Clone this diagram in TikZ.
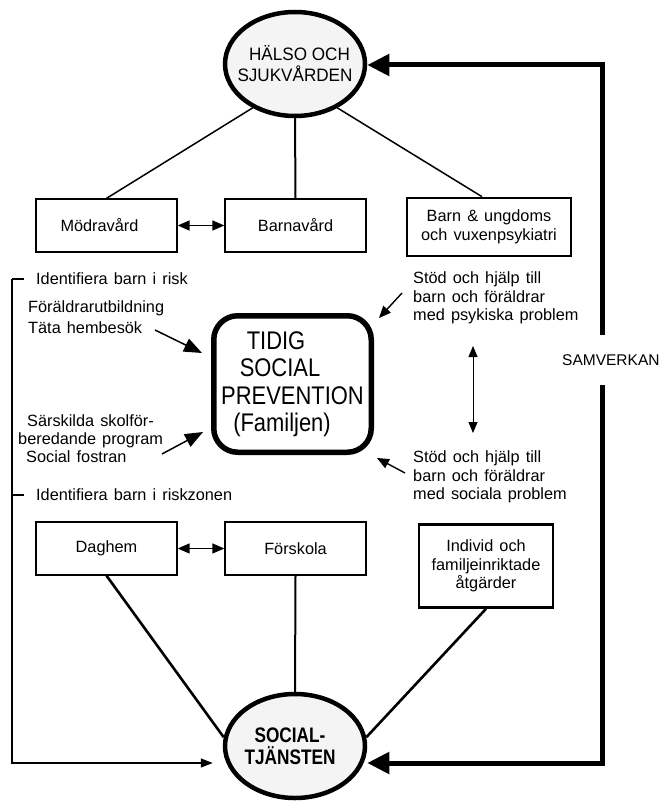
\documentclass[tikz,border=0pt]{standalone}
\usepackage{fontspec}
\setmainfont{Liberation Sans}[WordSpace=1.35]
\newfontfamily\narrowfont{Liberation Sans}[FakeStretch=0.86]
\newfontfamily\ovalfont{Liberation Sans}[FakeStretch=0.95]
\newfontfamily\boldnarrow{Liberation Sans}[FakeStretch=0.82]
\usetikzlibrary{arrows.meta,shapes.geometric}
\definecolor{ovalfill}{HTML}{F4F4F4}
% right-hand padding that survives the end of a centred line
\newcommand{\padright}[1]{\hspace*{#1}\hbox{}}

\begin{document}
\begin{tikzpicture}[x=1pt,y=-1pt,
  body/.style={font=\fontsize{16.3}{18.5}\selectfont},
  box/.style={draw, line width=1.3pt, minimum width=141pt, minimum height=53pt,
    inner sep=0pt, align=center, body},
  heavybox/.style={box, line width=2.6pt},
  oval/.style={ellipse, draw, line width=4.5pt, fill=ovalfill,
    minimum width=140pt, minimum height=104pt, inner sep=0pt},
  core/.style={draw, line width=5.5pt, rounded corners=24pt,
    minimum width=157.5pt, minimum height=136.5pt, text width=150pt,
    inner xsep=3.75pt, inner ysep=0pt, align=center,
    font=\narrowfont\fontsize{25.5}{27.5}\selectfont},
  note/.style={anchor=west, inner sep=0pt, align=left, body},
  link/.style={line width=1.5pt},
  heavylink/.style={line width=2.6pt},
  pair/.style={line width=1.5pt,
    {Triangle[length=12pt,width=10pt]}-{Triangle[length=12pt,width=10pt]}},
  slimpair/.style={line width=1pt,
    {Triangle[length=11pt,width=9pt]}-{Triangle[length=11pt,width=9pt]}},
  feed/.style={line width=1.5pt, -{Triangle[length=18pt,width=14pt]}},
  side/.style={line width=1.4pt, -{Triangle[length=12pt,width=10pt]}},
  bracket/.style={line width=1.2pt},
  bracketarrow/.style={bracket, -{Triangle[length=12pt,width=9pt]}},
  loop/.style={line width=5pt, line join=miter, -{Triangle[length=22pt,width=21pt]}}
]
\useasboundingbox (0,0) rectangle (660,802);

% the two services
\node[oval] (hs) at (295,64) {};
\node[align=center, inner sep=0pt, font=\ovalfont\fontsize{18}{21}\selectfont]
  (hst) at (hs) {\hspace*{9pt}HÄLSO OCH\\SJUKVÅRDEN};
\node[oval] (st) at (295,746) {};
\node[align=center, inner sep=0pt, font=\boldnarrow\bfseries\fontsize{21}{22}\selectfont]
  (stt) at ([xshift=-5pt]st.center) {SOCIAL-\\TJÄNSTEN};

% health care units
\node[box] (md) at (106.5,225.5) {Mödravård\padright{14pt}};
\node[box] (bv) at (295.5,225.5) {Barnavård};
\node[heavybox, minimum width=164pt, minimum height=58pt] (bu) at (489,227)
  {Barn \& ungdoms\\och vuxenpsykiatri};

% social service units
\node[box] (dh) at (106.5,548.5) {Daghem};
\node[box] (fs) at (295.5,548.5) {Förskola};
\node[heavybox, minimum width=134pt, minimum height=83pt] (iv) at (486,566)
  {Individ och\\familjeinriktade\\åtgärder};

% centre
\node[core] (cp) at (292.5,384)
  {TIDIG\padright{33pt}\\SOCIAL\padright{25pt}\\PREVENTION\\(Familjen)\padright{21pt}};

% side texts
\node[note] (ir1) at (36,279) {Identifiera barn i risk};
\node[note, font=\fontsize{16.3}{21}\selectfont] (fu) at (28,317.5)
  {Föräldrarutbildning\\Täta hembesök};
\node[note, font=\fontsize{16.3}{18}\selectfont] (sk) at (18,439)
  {\hspace*{9pt}Särskilda skolför-\\beredande program\\\hspace*{8pt}Social fostran};
\node[note] (ir2) at (36,495) {Identifiera barn i riskzonen};
\node[note] (sp) at (413,298) {Stöd och hjälp till\\barn och föräldrar\\med psykiska problem};
\node[note] (ss) at (413,477) {Stöd och hjälp till\\barn och föräldrar\\med sociala problem};
\node[note, font=\fontsize{15.5}{18}\selectfont] (sv) at (562,360) {SAMVERKAN};

% links to the services
\draw[link] (md.north) -- (hs.226);
\draw[link, line width=2pt] (bv.north) -- (hs.south);
\draw[link] ([xshift=-7pt]bu.north) -- (hs.314);
\draw[heavylink] (dh.south) -- (st.173);
\draw[link, line width=2pt] (fs.south) -- (st.north);
\draw[heavylink] (iv.south) -- (st.7);

% exchanges between units
\draw[pair] (md.east) -- (bv.west);
\draw[pair] (dh.east) -- (fs.west);
\coordinate (vt) at (473,346);
\coordinate (vb) at (473,433);
\draw[slimpair] (vt) -- (vb);

% inputs to the centre
\coordinate (f1) at (155,330);  \coordinate (f1e) at (202,353);
\coordinate (f2) at (162,454);  \coordinate (f2e) at (203,432);
\coordinate (f3) at (402,293);  \coordinate (f3e) at (379,318);
\coordinate (f4) at (405,473);  \coordinate (f4e) at (377,458);
\draw[feed] (f1) -- (f1e);
\draw[feed] (f2) -- (f2e);
\draw[side] (f3) -- (f3e);
\draw[side] (f4) -- (f4e);

% identification bracket on the left
\coordinate (lt) at (12,279);
\coordinate (lb) at (12,763);
\draw[bracket] (lt) -- ([xshift=-12pt]ir1.west);
\draw[bracket] (ir2.west -| lt) -- ([xshift=-12pt]ir2.west);
\draw[bracketarrow] (lt) -- (lb) -- ([xshift=-10pt]lb -| st.west);

% cooperation loop
\coordinate (rt) at (602,65);
\coordinate (rb) at (602,763);
\coordinate (sa) at (602,335);
\coordinate (sb) at (602,385);
\draw[loop] (sa) -- (rt) -- (rt -| hs.east);
\draw[loop] (sb) -- (rb) -- (rb -| st.east);
\end{tikzpicture}
\end{document}
